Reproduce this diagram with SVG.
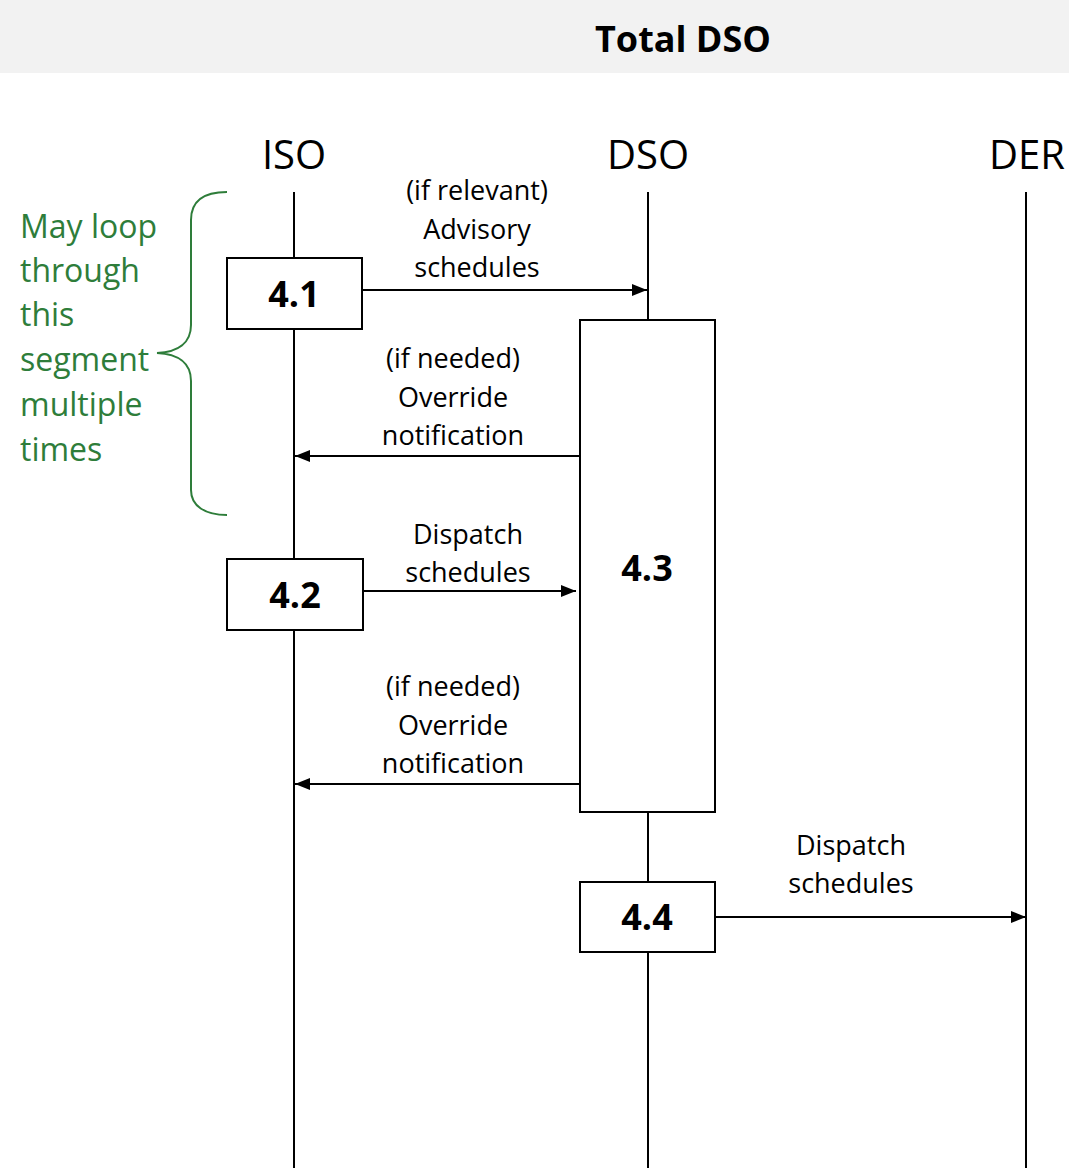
<svg xmlns="http://www.w3.org/2000/svg" width="1069" height="1168" viewBox="0 0 1069 1168">
  <style>
    text { font-family: "Open Sans", "Noto Sans", sans-serif; fill: #000; }
    .title { font-size: 36px; font-weight: bold; text-anchor: middle; }
    .actor { font-size: 40px; text-anchor: middle; }
    .step { font-size: 36px; font-weight: bold; text-anchor: middle; }
    .label { font-size: 27px; text-anchor: middle; }
    .note { font-size: 32px; fill: #2e7d3a; }
    .life { stroke: #000; stroke-width: 2; fill: none; }
    .box { fill: #fff; stroke: #000; stroke-width: 2; }
    .msg { stroke: #000; stroke-width: 2; fill: none; marker-end: url(#arrow); }
    .brace { stroke: #2e7d3a; stroke-width: 2; fill: none; }
  </style>
  <defs>
    <marker id="arrow" viewBox="0 0 15 12" refX="15" refY="6" markerWidth="15" markerHeight="12" markerUnits="userSpaceOnUse" orient="auto">
      <path d="M0,0 L15,6 L0,12 Z" fill="#000"/>
    </marker>
  </defs>

  <rect width="1069" height="1168" fill="#fff"/>

  <!-- header band -->
  <g id="header">
    <rect x="0" y="0" width="1069" height="73" fill="#f2f2f2"/>
    <text class="title" x="683" y="52">Total DSO</text>
  </g>

  <!-- lifelines -->
  <g id="lifelines">
    <g id="iso">
      <text class="actor" x="294" y="169">ISO</text>
      <line class="life" x1="294" y1="192" x2="294" y2="1168"/>
    </g>
    <g id="dso">
      <text class="actor" x="648" y="169">DSO</text>
      <line class="life" x1="648" y1="192" x2="648" y2="1168"/>
    </g>
    <g id="der">
      <text class="actor" x="1027" y="169">DER</text>
      <line class="life" x1="1026" y1="192" x2="1026" y2="1168"/>
    </g>
  </g>

  <!-- loop annotation -->
  <g id="loop-note">
    <path class="brace" d="M227,192 C205,192 191,200 191,220 L191,325 C191,343 178,352 157,353 C178,354 191,363 191,381 L191,490 C191,506 205,515 227,515"/>
    <text class="note" x="20" y="238">May loop</text>
    <text class="note" x="20" y="282">through</text>
    <text class="note" x="20" y="326">this</text>
    <text class="note" x="20" y="371">segment</text>
    <text class="note" x="20" y="416">multiple</text>
    <text class="note" x="20" y="461">times</text>
  </g>

  <!-- activation boxes -->
  <g id="step-4-1">
    <rect class="box" x="227" y="258" width="135" height="71"/>
    <text class="step" x="294" y="307">4.1</text>
  </g>
  <g id="step-4-3">
    <rect class="box" x="580" y="320" width="135" height="492"/>
    <text class="step" x="647" y="581">4.3</text>
  </g>
  <g id="step-4-2">
    <rect class="box" x="227" y="559" width="136" height="71"/>
    <text class="step" x="295" y="608">4.2</text>
  </g>
  <g id="step-4-4">
    <rect class="box" x="580" y="882" width="135" height="70"/>
    <text class="step" x="647" y="930">4.4</text>
  </g>

  <!-- messages -->
  <g id="connectors">
    <line class="msg" x1="362" y1="290" x2="647" y2="290"/>
    <line class="msg" x1="580" y1="456" x2="295" y2="456"/>
    <line class="msg" x1="363" y1="591" x2="576" y2="591"/>
    <line class="msg" x1="580" y1="784" x2="295" y2="784"/>
    <line class="msg" x1="715" y1="917" x2="1026" y2="917"/>
  </g>

  <g id="connector-labels">
    <text class="label" x="477" y="200">(if relevant)</text>
    <text class="label" x="477" y="239">Advisory</text>
    <text class="label" x="477" y="277">schedules</text>

    <text class="label" x="453" y="368">(if needed)</text>
    <text class="label" x="453" y="407">Override</text>
    <text class="label" x="453" y="445">notification</text>

    <text class="label" x="468" y="544">Dispatch</text>
    <text class="label" x="468" y="582">schedules</text>

    <text class="label" x="453" y="696">(if needed)</text>
    <text class="label" x="453" y="735">Override</text>
    <text class="label" x="453" y="773">notification</text>

    <text class="label" x="851" y="855">Dispatch</text>
    <text class="label" x="851" y="893">schedules</text>
  </g>
</svg>
